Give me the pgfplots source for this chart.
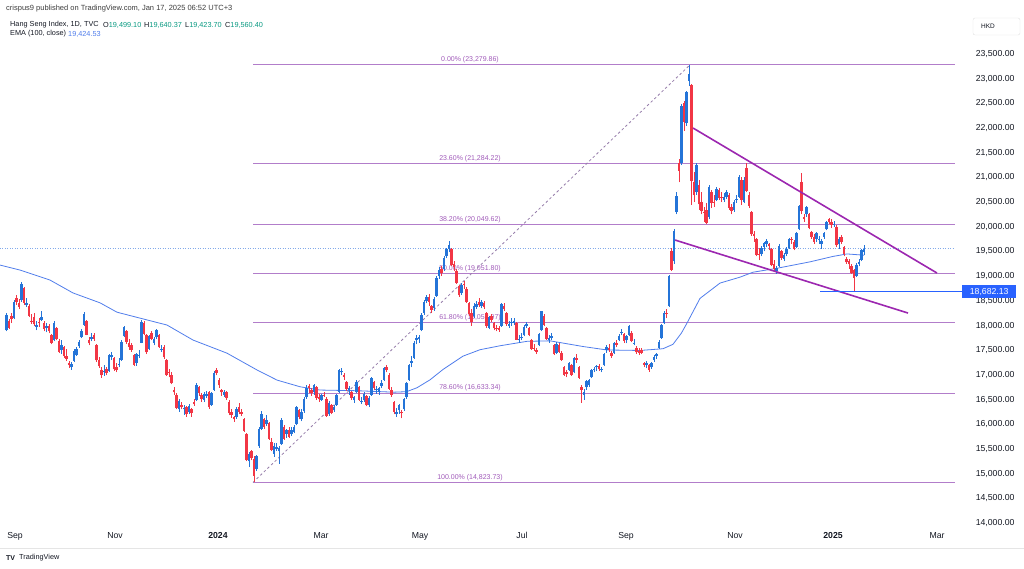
\documentclass[border=0pt]{standalone}
\usepackage{fontspec}
\setmainfont{Liberation Sans}
\usepackage{pgfplots}
\pgfplotsset{compat=1.18}
\usepackage{pgfplotstable}
\definecolor{upcol}{RGB}{36,116,216}
\definecolor{dncol}{RGB}{242,54,69}
\definecolor{tvtext}{RGB}{19,23,34}
\definecolor{fibline}{RGB}{178,125,202}
\definecolor{fibtext}{RGB}{160,90,185}
\definecolor{wedge}{RGB}{156,39,176}
\definecolor{emacol}{RGB}{80,125,235}
\definecolor{tvblue}{RGB}{41,98,255}
\definecolor{tvgreen}{RGB}{8,153,129}
\definecolor{pricedot}{RGB}{130,170,235}
\pgfplotsset{
  upbar/.style={restrict expr to domain={\thisrow{c}-\thisrow{o}}{0:100000}},
  dnbar/.style={restrict expr to domain={\thisrow{c}-\thisrow{o}}{-100000:-0.5}},
}
\pgfplotstableread{
n o h l c
0 17900 18250 17880 18212
1 18100 18130 17930 17956
2 18200 18250 18050 18130
3 18150 18520 18130 18484
4 18560 18610 18420 18482
5 18450 18540 18340 18382
6 18520 18890 18480 18844
7 18760 18790 18420 18456
8 18420 18560 18380 18449
9 18400 18430 18170 18202
10 18100 18230 18040 18096
11 18180 18250 17990 18025
12 17980 18090 17900 18010
13 18080 18150 17980 18047
14 18120 18300 18100 18182
15 18050 18090 17880 17930
16 17940 18060 17860 17997
17 17990 18040 17840 17885
18 17800 17830 17620 17655
19 17700 18100 17680 18057
20 17950 17970 17700 17729
21 17680 17720 17440 17466
22 17500 17700 17420 17611
23 17560 17580 17340 17373
24 17390 17520 17280 17331
25 17250 17290 17140 17196
26 17150 17260 17100 17213
27 17280 17520 17260 17485
28 17400 17560 17380 17517
29 17580 17700 17550 17664
30 17760 17920 17740 17893
31 18020 18280 18000 18238
32 18090 18110 17800 17813
33 17700 17770 17600 17640
34 17720 17850 17680 17773
35 17800 17840 17690 17732
36 17600 17620 17260 17295
37 17300 17360 17140 17172
38 17100 17150 16940 16991
39 17050 17200 16980 17086
40 17120 17170 16990 17045
41 17080 17420 17060 17398
42 17360 17470 17300 17406
43 17350 17370 17080 17112
44 17150 17250 17050 17101
45 17200 17350 17150 17230
46 17300 17700 17280 17664
47 17780 18000 17760 17966
48 17880 17900 17630 17671
49 17650 17720 17510 17569
50 17600 17640 17470 17511
51 17400 17430 17180 17203
52 17250 17450 17190 17426
53 17380 17500 17350 17396
54 17650 18120 17640 18079
55 18050 18090 17800 17833
56 17800 17830 17420 17454
57 17520 17800 17500 17778
58 17850 17880 17700 17733
59 17650 17760 17600 17734
60 17760 17930 17720 17911
61 17800 17820 17540 17559
62 17500 17600 17460 17525
63 17560 17600 17330 17354
64 17300 17330 16980 16993
65 17050 17120 16950 17042
66 17000 17050 16810 16830
67 16700 16750 16600 16646
68 16600 16630 16300 16327
69 16300 16510 16250 16463
70 16400 16450 16300 16345
71 16300 16390 16190 16334
72 16350 16380 16150 16201
73 16250 16420 16200 16374
74 16300 16330 16150 16228
75 16450 16520 16380 16402
76 16500 16830 16480 16792
77 16750 16780 16580 16629
78 16600 16640 16460 16505
79 16500 16650 16450 16613
80 16580 16670 16540 16621
81 16650 16680 16310 16340
82 16400 16650 16380 16625
83 16700 17080 16680 17043
84 17090 17140 16990 17047
85 16900 16930 16740 16789
86 16700 16720 16580 16646
87 16600 16700 16560 16645
88 16650 16680 16500 16535
89 16450 16490 16180 16224
90 16250 16300 16130 16190
91 16150 16170 16050 16098
92 16150 16340 16110 16302
93 16350 16430 16200 16244
94 16250 16300 16170 16217
95 16100 16130 15840 15866
96 15800 15830 15250 15276
97 15250 15440 15130 15391
98 15450 15480 15270 15308
99 15300 15360 14823 14961
100 15100 15380 15060 15353
101 15550 15950 15520 15899
102 15900 16260 15880 16212
103 16100 16130 15900 15952
104 16000 16190 15960 16077
105 16020 16050 15690 15703
106 15650 15720 15450 15485
107 15400 15620 15340 15566
108 15500 15620 15460 15533
109 15450 15560 15200 15510
110 15600 16120 15580 16081
111 15950 15980 15690 15708
112 15800 15900 15730 15878
113 15880 15950 15720 15746
114 15800 15950 15760 15879
115 15850 15990 15820 15945
116 16000 16380 15980 16340
117 16280 16310 16100 16156
118 16100 16300 16060 16248
119 16260 16560 16230 16503
120 16550 16790 16520 16742
121 16780 16810 16640 16726
122 16700 16740 16580 16634
123 16650 16820 16600 16790
124 16750 16780 16500 16536
125 16550 16620 16460 16511
126 16500 16620 16470 16589
127 16600 16650 16550 16596
128 16520 16560 16150 16163
129 16200 16480 16170 16438
130 16400 16420 16200 16230
131 16280 16390 16250 16353
132 16400 16620 16380 16588
133 16650 17120 16630 17093
134 17050 17130 16990 17082
135 17000 17030 16900 16962
136 16850 16870 16680 16721
137 16700 16780 16600 16738
138 16650 16680 16500 16529
139 16500 16580 16430 16543
140 16650 16890 16630 16863
141 16750 16780 16480 16499
142 16450 16560 16410 16473
143 16500 16650 16460 16618
144 16580 16600 16360 16392
145 16400 16570 16350 16541
146 16600 16960 16580 16931
147 16850 16870 16690 16725
148 16700 16780 16620 16724
149 16650 16760 16600 16733
150 16780 16900 16730 16828
151 16900 17170 16880 17139
152 17150 17200 17050 17095
153 17000 17030 16700 16721
154 16700 16750 16560 16600
155 16450 16480 16200 16248
156 16200 16330 16150 16251
157 16280 16420 16210 16385
158 16250 16280 16120 16224
159 16300 16540 16270 16511
160 16550 16850 16520 16828
161 16900 17230 16880 17201
162 17250 17380 17150 17284
163 17350 17680 17330 17651
164 17700 17800 17620 17746
165 17720 17800 17650 17763
166 17900 18250 17880 18207
167 18250 18510 18220 18476
168 18500 18620 18450 18578
169 18580 18630 18400 18479
170 18400 18420 18250 18313
171 18350 18570 18300 18538
172 18600 19000 18580 18963
173 19000 19180 18950 19115
174 19150 19200 19000 19073
175 19150 19400 19100 19376
176 19400 19580 19360 19553
177 19550 19710 19480 19636
178 19550 19580 19200 19221
179 19250 19300 19100 19195
180 19100 19150 18850 18868
181 18800 18830 18580 18609
182 18650 18870 18620 18827
183 18850 18900 18750 18821
184 18750 18780 18460 18477
185 18450 18480 18200 18231
186 18250 18330 18000 18079
187 18200 18450 18150 18403
188 18380 18500 18330 18444
189 18470 18550 18380 18425
190 18400 18520 18350 18476
191 18450 18500 18330 18366
192 18250 18280 17960 17998
193 17950 18200 17920 18176
194 18200 18230 18070 18113
195 18050 18080 17900 17942
196 17950 18010 17880 17937
197 17950 18000 17870 17916
198 18000 18450 17980 18431
199 18400 18460 18300 18336
200 18250 18280 18000 18029
201 18000 18100 17950 18027
202 18050 18150 18000 18072
203 18050 18160 18020 18090
204 18050 18070 17700 17717
205 17700 17800 17650 17719
206 17750 17840 17700 17770
207 17800 18010 17780 17979
208 18000 18080 17950 18028
209 17950 17970 17780 17800
210 17700 17720 17500 17524
211 17550 17620 17480 17523
212 17500 17540 17420 17471
213 17600 17850 17580 17832
214 17900 18300 17880 18293
215 18200 18230 17990 18016
216 17950 17980 17700 17727
217 17700 17800 17650 17739
218 17750 17850 17700 17778
219 17600 17620 17400 17418
220 17450 17660 17420 17636
221 17600 17640 17450 17469
222 17450 17480 17290 17311
223 17150 17180 16980 17005
224 17050 17100 16950 17022
225 17100 17270 17080 17239
226 17200 17220 16980 17002
227 17050 17370 17030 17345
228 17350 17420 17250 17304
229 17150 17180 16920 16946
230 16750 16790 16440 16698
231 16600 16720 16500 16647
232 16750 16900 16700 16877
233 16800 16920 16760 16891
234 16950 17110 16930 17091
235 17100 17150 17050 17112
236 17150 17200 17080 17174
237 17180 17220 17080 17113
238 17100 17160 17050 17110
239 17200 17450 17180 17430
240 17500 17600 17450 17569
241 17550 17620 17470 17511
242 17450 17480 17350 17391
243 17450 17660 17420 17641
244 17650 17700 17560 17612
245 17700 17820 17680 17798
246 17850 17930 17800 17875
247 17820 17850 17650 17692
248 17700 17800 17640 17786
249 17800 18020 17780 17989
250 17850 17880 17660 17691
251 17650 17720 17600 17651
252 17550 17580 17420 17457
253 17480 17550 17400 17444
254 17500 17540 17420 17444
255 17250 17270 17150 17196
256 17200 17280 17130 17234
257 17200 17220 17060 17108
258 17150 17270 17120 17240
259 17300 17400 17260 17369
260 17380 17450 17320 17422
261 17550 17700 17520 17660
262 17750 18030 17730 18013
263 18050 18300 18030 18258
264 18250 18330 18150 18247
265 18400 19020 18380 19000
266 19500 19580 19100 19129
267 19300 19960 19250 19924
268 20300 20700 20250 20632
269 21300 21370 20900 21133
270 21300 22480 21250 22443
271 22500 22550 21950 22113
272 22100 22760 22050 22736
273 22950 23280 22850 23100
274 22880 22900 20450 20926
275 20900 21100 20500 20637
276 20700 21300 20650 21251
277 20850 20950 20350 20454
278 20500 20700 20250 20318
279 20300 20400 20100 20286
280 20350 20480 20050 20079
281 20200 20850 20150 20804
282 20700 20750 20380 20478
283 20500 20650 20400 20498
284 20550 20800 20520 20760
285 20750 20780 20550 20590
286 20600 20700 20500 20589
287 20550 20680 20500 20599
288 20600 20750 20560 20701
289 20650 20680 20350 20380
290 20400 20460 20250 20317
291 20350 20550 20300 20506
292 20550 20650 20480 20567
293 20600 21050 20580 21006
294 20950 21000 20450 20538
295 20500 21000 20480 20953
296 21200 21300 20700 20728
297 20650 20700 20380 20426
298 20300 20320 19820 19846
299 19850 19920 19700 19823
300 19750 19780 19400 19436
301 19450 19580 19320 19426
302 19450 19620 19400 19577
303 19600 19700 19500 19663
304 19650 19750 19600 19705
305 19650 19680 19520 19601
306 19550 19580 19200 19230
307 19250 19330 19100 19151
308 19100 19200 19050 19159
309 19200 19650 19180 19603
310 19500 19530 19330 19366
311 19350 19470 19300 19424
312 19450 19600 19400 19551
313 19580 19780 19550 19746
314 19750 19800 19650 19742
315 19700 19740 19520 19560
316 19600 19900 19580 19866
317 19950 20450 19930 20414
318 20900 21090 20250 20311
319 20200 20250 20100 20155
320 20250 20420 20200 20398
321 20250 20280 19950 19971
322 19900 19920 19750 19795
323 19800 19850 19650 19700
324 19750 19900 19700 19865
325 19750 19820 19650 19752
326 19650 19750 19560 19720
327 19800 19900 19760 19883
328 19950 20120 19930 20098
329 20150 20170 20050 20090
330 20100 20150 19980 20041
331 20050 20110 20000 20060
332 20000 20030 19600 19623
333 19650 19800 19550 19760
334 19800 19830 19650 19688
335 19600 19620 19400 19447
336 19350 19380 19250 19279
337 19300 19350 19150 19240
338 19200 19250 19040 19064
339 19120 19150 18682 18960
340 19000 19260 18980 19219
341 19250 19350 19200 19286
342 19330 19560 19300 19522
343 19499 19640 19424 19560
}\candles
\begin{document}
\begin{tikzpicture}[x=1pt,y=1pt]
\path[use as bounding box] (0,0) rectangle (1024,568);
\begin{axis}[
  at={(0pt,41pt)}, anchor=south west, scale only axis,
  width=955pt, height=515pt,
  xmin=-2.6, xmax=379.4, ymin=13919, ymax=24351,
  clip=false,
  axis line style={draw=none},
  major tick length=0pt,
  xtick={3.4,43.4,84.6,125.8,165.4,206.2,247.8,291.4,330.6,372.2},
  xticklabels={Sep,Nov,\textbf{2024},Mar,May,Jul,Sep,Nov,\textbf{2025},Mar},
  xticklabel style={font=\fontsize{8.7}{10}\selectfont, text=tvtext, yshift=-2pt},
  ytick={14000,14500,15000,15500,16000,16500,17000,17500,18000,18500,19000,19500,20000,20500,21000,21500,22000,22500,23000,23500},
  yticklabel pos=right,
  scaled y ticks=false,
  yticklabel style={anchor=east, xshift=63pt, font=\fontsize{8.7}{10}\selectfont, text=tvtext,
    /pgf/number format/.cd, fixed, fixed zerofill, precision=2, 1000 sep={,}, assume math mode=true},
]
% Fibonacci retracement levels
\addplot[fibline, line width=1pt, forget plot] coordinates {(98.6,23279.86) (379.4,23279.86)};
\addplot[fibline, line width=1pt, forget plot] coordinates {(98.6,21284.22) (379.4,21284.22)};
\addplot[fibline, line width=1pt, forget plot] coordinates {(98.6,20049.62) (379.4,20049.62)};
\addplot[fibline, line width=1pt, forget plot] coordinates {(98.6,19051.80) (379.4,19051.80)};
\addplot[fibline, line width=1pt, forget plot] coordinates {(98.6,18053.97) (379.4,18053.97)};
\addplot[fibline, line width=1pt, forget plot] coordinates {(98.6,16633.34) (379.4,16633.34)};
\addplot[fibline, line width=1pt, forget plot] coordinates {(98.6,14823.73) (379.4,14823.73)};
\begin{scope}[every node/.style={anchor=south, inner sep=1.5pt, font=\fontsize{7}{8}\selectfont, text=fibtext}]
\node at (axis cs:185.4,23279.86) {0.00\% (23,279.86)};
\node at (axis cs:185.4,21284.22) {23.60\% (21,284.22)};
\node at (axis cs:185.4,20049.62) {38.20\% (20,049.62)};
\node at (axis cs:185.4,19051.80) {50.00\% (19,051.80)};
\node at (axis cs:185.4,18053.97) {61.80\% (18,053.97)};
\node at (axis cs:185.4,16633.34) {78.60\% (16,633.34)};
\node at (axis cs:185.4,14823.73) {100.00\% (14,823.73)};
\end{scope}
% fib trend line
\addplot[color={rgb,255:red,150;green,125;blue,170}, line width=0.8pt, dash pattern=on 2.5pt off 2.5pt, forget plot] coordinates {(98.6,14823.73) (273.4,23279.86)};
% last price dotted line
\addplot[pricedot, line width=0.7pt, dash pattern=on 1pt off 1.5pt, forget plot] coordinates {(-2.6,19560.4) (379.4,19560.4)};
% EMA 100
\addplot[emacol, line width=0.8pt, forget plot] coordinates {
(-2.6,19225) (5.4,19124) (17.4,18921) (26.6,18660) (37.4,18460) (44.2,18270)
(53.4,18150) (64.2,18010) (74.6,17706) (88.2,17440) (100.2,17100) (108.2,16895)
(117.4,16760) (125.4,16693) (140,16680) (155,16650) (160,16660) (164.2,16740)
(169.4,16900) (174.6,17110) (182.6,17380) (189.4,17510) (197.4,17590) (208.2,17680)
(217.4,17690) (230.6,17575) (240.2,17505) (253.4,17495) (262.6,17530) (266.6,17620)
(270,17850) (272.2,18050) (277.4,18550) (285.4,18860) (293.4,18980) (298.6,19080)
(308.2,19160) (321.4,19290) (330.6,19400) (336.2,19450) (343,19425)};
% candles: wicks
\addplot[draw=none, mark=none, forget plot, upbar,
  error bars/.cd, y dir=plus, y explicit, error mark=none,
  error bar style={draw=upcol, line width=0.8pt}]
  table[x=n, y=l, y error plus expr={\thisrow{h}-\thisrow{l}}]{\candles};
\addplot[draw=none, mark=none, forget plot, dnbar,
  error bars/.cd, y dir=plus, y explicit, error mark=none,
  error bar style={draw=dncol, line width=0.8pt}]
  table[x=n, y=l, y error plus expr={\thisrow{h}-\thisrow{l}}]{\candles};
% candles: bodies
\addplot[draw=none, mark=none, forget plot, upbar,
  error bars/.cd, y dir=plus, y explicit, error mark=none,
  error bar style={draw=upcol, line width=2.3pt}]
  table[x=n, y=o, y error plus expr={\thisrow{c}-\thisrow{o}}]{\candles};
\addplot[draw=none, mark=none, forget plot, dnbar,
  error bars/.cd, y dir=plus, y explicit, error mark=none,
  error bar style={draw=dncol, line width=2.3pt}]
  table[x=n, y=c, y error plus expr={\thisrow{o}-\thisrow{c}}]{\candles};
% falling wedge
\addplot[wedge, line width=1.6pt, forget plot] coordinates {(274.6,22001) (372.2,19063)};
\addplot[wedge, line width=1.6pt, forget plot] coordinates {(267.4,19732) (360.6,18253)};
% low line
\addplot[tvblue, line width=0.9pt, forget plot] coordinates {(325.4,18682.13) (382.2,18682.13)};
\node[fill=tvblue, text=white, anchor=west, inner sep=0pt, minimum width=54pt, minimum height=13pt,
  font=\fontsize{8.7}{10}\selectfont, xshift=7pt] at (axis cs:379.4,18682.13) {18,682.13};
\end{axis}
% header
\node[anchor=west, inner sep=0pt, font=\fontsize{7.5}{9}\selectfont, text={rgb,255:red,60;green,60;blue,60}] at (6,559) {crispus9 published on TradingView.com, Jan 17, 2025 06:52 UTC+3};
\begin{scope}[every node/.style={anchor=west, inner sep=0pt, font=\fontsize{7.3}{9}\selectfont, text=tvtext}]
\node at (10,543) {Hang Seng Index, 1D, TVC};
\node at (103,543) {O\textcolor{tvgreen}{19,499.10}};
\node at (144,543) {H\textcolor{tvgreen}{19,640.37}};
\node at (185,543) {L\textcolor{tvgreen}{19,423.70}};
\node at (225,543) {C\textcolor{tvgreen}{19,560.40}};
\node at (10,534) {EMA (100, close)};
\node at (68,534) {\textcolor{emacol}{19,424.53}};
\end{scope}
% currency box
\draw[rounded corners=2pt, color=black!12] (973,533) rectangle (1020,550);
\node[anchor=west, inner sep=0pt, font=\fontsize{6.5}{8}\selectfont, text=tvtext] at (981,541.5) {HKD};
% bottom separator and logo
\draw[color=black!10, line width=0.6pt] (0,20) -- (1024,20);
\node[anchor=west, inner sep=0pt, font=\fontsize{7}{8}\bfseries\selectfont, text=tvtext] at (6,10) {TV};
\node[anchor=west, inner sep=0pt, font=\fontsize{7.3}{9}\selectfont, text=tvtext] at (19,10) {TradingView};
\end{tikzpicture}
\end{document}
